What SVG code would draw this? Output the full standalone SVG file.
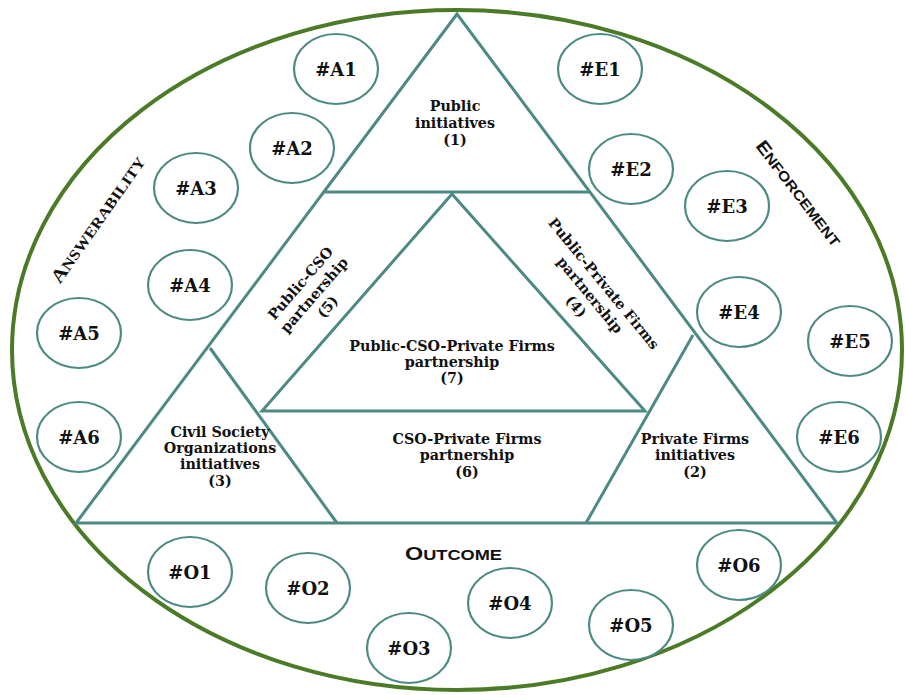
<svg xmlns="http://www.w3.org/2000/svg" width="905" height="695" viewBox="0 0 905 695">
<style>
.bg{fill:#ffffff}
.oval{fill:none;stroke:#4b7b26;stroke-width:4}
.tri{fill:none;stroke:#4d8a83;stroke-width:3;stroke-linejoin:miter}
.seg{stroke:#4d8a83;stroke-width:3;stroke-linecap:butt}
.node ellipse{fill:#ffffff;stroke:#4d8a83;stroke-width:2.2}
.node text{font-family:"DejaVu Serif","Liberation Serif",serif;font-weight:bold;font-size:18px;fill:#111;text-anchor:middle}
.lbl{font-family:"DejaVu Serif","Liberation Serif",serif;font-weight:bold;font-size:14.3px;fill:#111;text-anchor:middle}
.sc{font-family:"Liberation Sans",Arial,sans-serif;font-weight:bold;fill:#111;text-anchor:middle}
.scs{font-family:"Liberation Serif","DejaVu Serif",serif;font-weight:bold;fill:#111;text-anchor:middle}
</style>
<rect class="bg" x="0" y="0" width="905" height="695"/>
<ellipse id="boundary" class="oval" cx="457" cy="350" rx="445" ry="340"/>

<g id="connectors">
<polygon class="tri" points="457,14 76,523 837,523"/>
<line class="seg" x1="323" y1="192" x2="590" y2="192"/>
<polygon class="tri" points="452,194 262,411 645,411"/>
<line class="seg" x1="210" y1="348" x2="337" y2="523"/>
<line class="seg" x1="693" y1="335" x2="586" y2="523"/>
</g>

<g id="region-public">
<text class="lbl" x="455" y="111">Public</text>
<text class="lbl" x="455" y="128">initiatives</text>
<text class="lbl" x="455" y="145">(1)</text>
</g>
<g id="region-public-cso" transform="translate(314,295) rotate(-49)">
<text class="lbl" x="0" y="-13">Public-CSO</text>
<text class="lbl" x="0" y="5">partnership</text>
<text class="lbl" x="0" y="23">(5)</text>
</g>
<g id="region-public-private" transform="translate(590,295) rotate(50.5)">
<text class="lbl" x="0" y="-13">Public-Private Firms</text>
<text class="lbl" x="0" y="5">partnership</text>
<text class="lbl" x="0" y="23">(4)</text>
</g>
<g id="region-all">
<text class="lbl" x="452" y="351">Public-CSO-Private Firms</text>
<text class="lbl" x="452" y="367">partnership</text>
<text class="lbl" x="452" y="383">(7)</text>
</g>
<g id="region-cso">
<text class="lbl" x="220" y="437">Civil Society</text>
<text class="lbl" x="220" y="453">Organizations</text>
<text class="lbl" x="220" y="469">initiatives</text>
<text class="lbl" x="220" y="486">(3)</text>
</g>
<g id="region-cso-private">
<text class="lbl" x="467" y="444">CSO-Private Firms</text>
<text class="lbl" x="467" y="460">partnership</text>
<text class="lbl" x="467" y="477">(6)</text>
</g>
<g id="region-private">
<text class="lbl" x="695" y="444">Private Firms</text>
<text class="lbl" x="695" y="460">initiatives</text>
<text class="lbl" x="695" y="477">(2)</text>
</g>

<g id="label-answerability" transform="translate(103,223) rotate(-55)">
<text class="scs" x="0" y="0" textLength="150" lengthAdjust="spacingAndGlyphs"><tspan font-size="19">A</tspan><tspan font-size="15">NSWERABILITY</tspan></text>
</g>
<g id="label-enforcement" transform="translate(794,197) rotate(52.5)">
<text class="sc" x="0" y="0" textLength="128" lengthAdjust="spacingAndGlyphs"><tspan font-size="18">E</tspan><tspan font-size="14">NFORCEMENT</tspan></text>
</g>
<g id="label-outcome">
<text class="sc" x="453.5" y="560" textLength="97" lengthAdjust="spacingAndGlyphs"><tspan font-size="18">O</tspan><tspan font-size="14">UTCOME</tspan></text>
</g>

<g id="A1" class="node"><ellipse cx="336" cy="69" rx="42" ry="35"/><text x="336" y="76">#A1</text></g>
<g id="A2" class="node"><ellipse cx="292" cy="148" rx="42" ry="35"/><text x="292" y="155">#A2</text></g>
<g id="A3" class="node"><ellipse cx="196" cy="188" rx="42" ry="35"/><text x="196" y="195">#A3</text></g>
<g id="A4" class="node"><ellipse cx="190" cy="285" rx="42" ry="35"/><text x="190" y="292">#A4</text></g>
<g id="A5" class="node"><ellipse cx="79" cy="333" rx="42" ry="35"/><text x="79" y="340">#A5</text></g>
<g id="A6" class="node"><ellipse cx="79" cy="437" rx="42" ry="35"/><text x="79" y="444">#A6</text></g>

<g id="E1" class="node"><ellipse cx="600" cy="69" rx="42" ry="35"/><text x="600" y="76">#E1</text></g>
<g id="E2" class="node"><ellipse cx="631" cy="169" rx="42" ry="35"/><text x="631" y="176">#E2</text></g>
<g id="E3" class="node"><ellipse cx="727" cy="206" rx="42" ry="35"/><text x="727" y="213">#E3</text></g>
<g id="E4" class="node"><ellipse cx="739" cy="312" rx="42" ry="35"/><text x="739" y="319">#E4</text></g>
<g id="E5" class="node"><ellipse cx="850" cy="341" rx="42" ry="35"/><text x="850" y="348">#E5</text></g>
<g id="E6" class="node"><ellipse cx="839" cy="437" rx="42" ry="35"/><text x="839" y="444">#E6</text></g>

<g id="O1" class="node"><ellipse cx="190" cy="572" rx="42" ry="35"/><text x="190" y="579">#O1</text></g>
<g id="O2" class="node"><ellipse cx="308" cy="588" rx="42" ry="35"/><text x="308" y="595">#O2</text></g>
<g id="O3" class="node"><ellipse cx="409" cy="648" rx="42" ry="35"/><text x="409" y="655">#O3</text></g>
<g id="O4" class="node"><ellipse cx="510" cy="603" rx="42" ry="35"/><text x="510" y="610">#O4</text></g>
<g id="O5" class="node"><ellipse cx="631" cy="625" rx="42" ry="35"/><text x="631" y="632">#O5</text></g>
<g id="O6" class="node"><ellipse cx="739" cy="565" rx="42" ry="35"/><text x="739" y="572">#O6</text></g>
</svg>
